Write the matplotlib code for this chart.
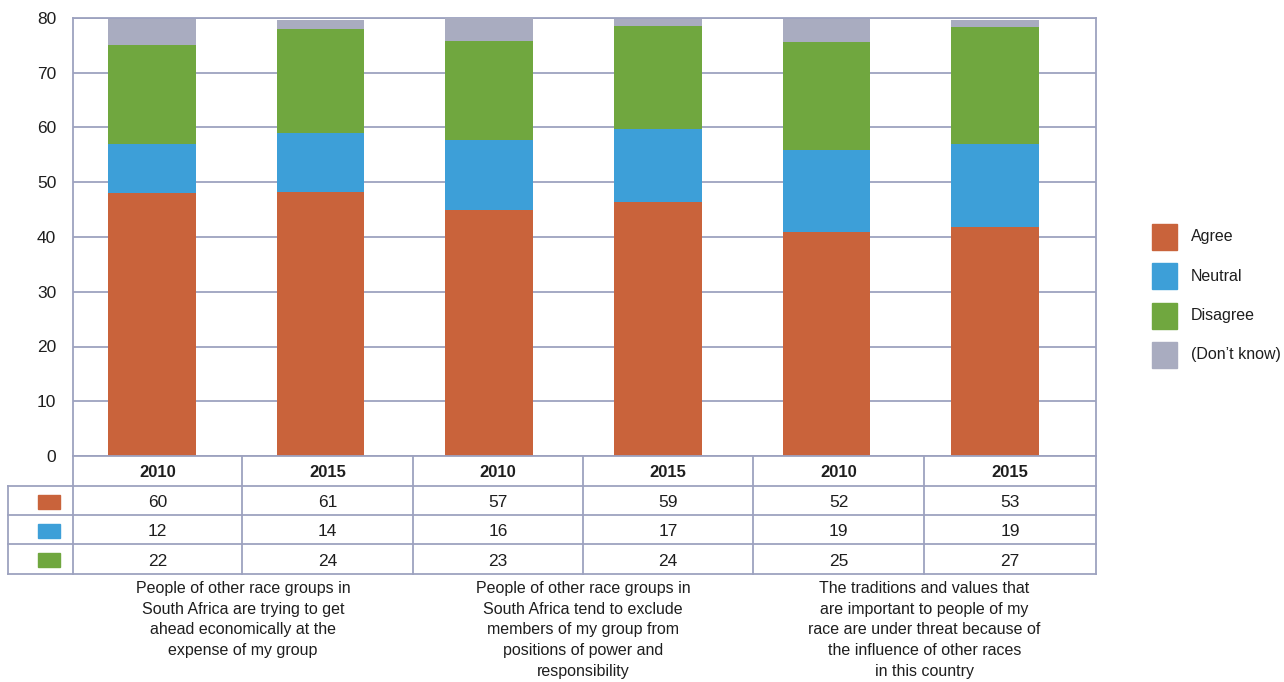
import matplotlib
matplotlib.use("Agg")
import matplotlib.pyplot as plt
from matplotlib.lines import Line2D
from matplotlib.patches import Rectangle

plt.rcParams['font.family'] = ['Liberation Sans', 'DejaVu Sans']

# bar segments as drawn on the chart (axis runs 0-80)
agree_bar = [48.0, 48.2, 45.0, 46.4, 41.0, 41.9]
neutral_bar = [9.0, 10.8, 12.8, 13.4, 14.9, 15.0]
disagree_bar = [18.1, 19.0, 18.0, 18.7, 19.7, 21.5]
dontknow_bar = [4.7, 1.7, 4.2, 1.4, 4.3, 1.3]

# table values (percent)
years = ['2010', '2015', '2010', '2015', '2010', '2015']
agree_tab = [60, 61, 57, 59, 52, 53]
neutral_tab = [12, 14, 16, 17, 19, 19]
disagree_tab = [22, 24, 23, 24, 25, 27]

statements = [
    "People of other race groups in\nSouth Africa are trying to get\nahead economically at the\nexpense of my group",
    "People of other race groups in\nSouth Africa tend to exclude\nmembers of my group from\npositions of power and\nresponsibility",
    "The traditions and values that\nare important to people of my\nrace are under threat because of\nthe influence of other races\nin this country",
]
series = ['Agree', 'Neutral', 'Disagree', "(Don\u2019t know)"]
colors = ['#c9633b', '#3d9fd8', '#70a73f', '#a9acc0']
line_c = '#9da2bf'
txt_c = '#1e1e1e'

W, H = 1284, 682
fig = plt.figure(figsize=(W / 100, H / 100), dpi=100)


def fx(x):
    return x / W


def fy(y):
    return 1 - y / H


ax = fig.add_axes([fx(73), fy(456), fx(1096) - fx(73), fy(18) - fy(456)])
xs = list(range(len(years)))
bottom = [0] * len(xs)
for vals, c in zip([agree_bar, neutral_bar, disagree_bar, dontknow_bar], colors):
    ax.bar(xs, vals, bottom=bottom, width=0.52, color=c, zorder=3)
    bottom = [b + v for b, v in zip(bottom, vals)]

ax.set_xlim(-0.4686, 5.599)
ax.set_ylim(0, 80)
ax.set_yticks(range(0, 81, 10))
ax.set_xticks([])
ax.tick_params(axis='y', length=0, pad=12, labelsize=12.5, labelcolor=txt_c)
ax.yaxis.grid(True, color=line_c, linewidth=1.3, zorder=0)
ax.spines['bottom'].set_visible(False)
for s in ['left', 'right', 'top']:
    ax.spines[s].set_color(line_c)
    ax.spines[s].set_linewidth(1.3)

# table
cols = [73, 242, 413, 583, 753, 924, 1096]
rows = [456, 486, 515, 544, 574]


def hline(x0, x1, y):
    fig.add_artist(Line2D([fx(x0), fx(x1)], [fy(y), fy(y)], color=line_c, lw=1.3))


def vline(x, y0, y1):
    fig.add_artist(Line2D([fx(x), fx(x)], [fy(y0), fy(y1)], color=line_c, lw=1.3))


hline(73, 1096, rows[0])
for y in rows[1:]:
    hline(8, 1096, y)
for x in cols:
    vline(x, rows[0], rows[-1])
vline(8, rows[1], rows[-1])

for i, yr in enumerate(years):
    cx = (cols[i] + cols[i + 1]) / 2
    fig.text(fx(cx), fy((rows[0] + rows[1]) / 2 + 1.5), yr, ha='center', va='center',
             fontsize=12, fontweight='bold', color=txt_c)
    for r, vals in enumerate([agree_tab, neutral_tab, disagree_tab]):
        fig.text(fx(cx), fy((rows[r + 1] + rows[r + 2]) / 2 + 2), str(vals[i]),
                 ha='center', va='center', fontsize=12.5, color=txt_c)

for r in range(3):
    yc = (rows[r + 1] + rows[r + 2]) / 2 + 1
    fig.add_artist(Rectangle((fx(38), fy(yc + 7)), fx(60) - fx(38), fy(yc - 7) - fy(yc + 7),
                             color=colors[r], transform=fig.transFigure))

for g, txt in enumerate(statements):
    cx = (cols[2 * g] + cols[2 * g + 2]) / 2
    fig.text(fx(cx), fy(581), txt, ha='center', va='top', fontsize=11.5,
             color=txt_c, linespacing=1.47)

# legend
for k, (name, c) in enumerate(zip(series, colors)):
    yc = 237 + k * 39.3
    fig.add_artist(Rectangle((fx(1152), fy(yc + 13)), fx(1177) - fx(1152), fy(yc - 13) - fy(yc + 13),
                             color=c, transform=fig.transFigure))
    fig.text(fx(1191), fy(yc), name, ha='left', va='center', fontsize=11.5, color=txt_c)

fig.savefig('out.png', dpi=100)
